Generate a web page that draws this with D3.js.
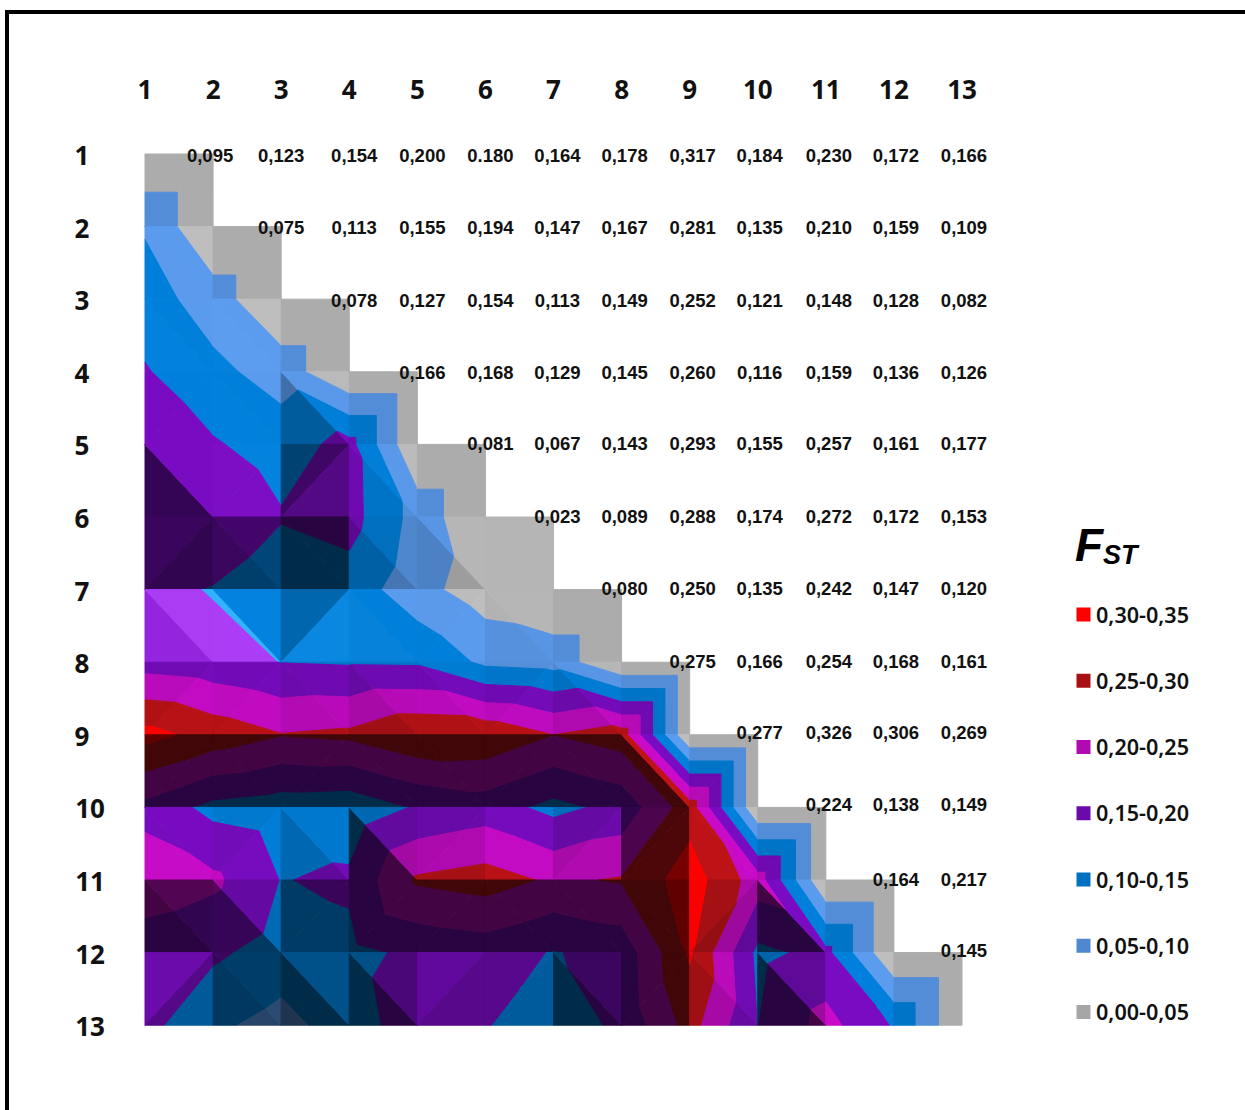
<!DOCTYPE html>
<html>
<head>
<meta charset="utf-8">
<style>
  html, body { margin: 0; padding: 0; background: #fff; }
  svg { display: block; }
  .axisLabel { font-family: "Noto Sans"; font-weight: 700; font-size: 26px; fill: #111; }
  .cellLabel { font-family: "Liberation Sans"; font-weight: 700; font-size: 18.5px; fill: #111; }
  .legendLabel { font-family: "Noto Sans"; font-weight: 600; font-size: 21.6px; fill: #111; }
  .title { font-family: "Liberation Sans"; font-weight: 700; font-style: italic; fill: #000; }
</style>
<script src="https://d3js.org/d3.v7.min.js"></script>
</head>
<body>
<div id="chart"></div>
<script>
// pairwise Fst, one list per population
var pop1  = [0.095, 0.123, 0.154, 0.200, 0.180, 0.164, 0.178, 0.317, 0.184, 0.230, 0.172, 0.166];
var pop2  = [0.075, 0.113, 0.155, 0.194, 0.147, 0.167, 0.281, 0.135, 0.210, 0.159, 0.109];
var pop3  = [0.078, 0.127, 0.154, 0.113, 0.149, 0.252, 0.121, 0.148, 0.128, 0.082];
var pop4  = [0.166, 0.168, 0.129, 0.145, 0.260, 0.116, 0.159, 0.136, 0.126];
var pop5  = [0.081, 0.067, 0.143, 0.293, 0.155, 0.257, 0.161, 0.177];
var pop6  = [0.023, 0.089, 0.288, 0.174, 0.272, 0.172, 0.153];
var pop7  = [0.080, 0.250, 0.135, 0.242, 0.147, 0.120];
var pop8  = [0.275, 0.166, 0.254, 0.168, 0.161];
var pop9  = [0.277, 0.326, 0.306, 0.269];
var pop10 = [0.224, 0.138, 0.149];
var pop11 = [0.164, 0.217];
var pop12 = [0.145];

var populations = [1, 2, 3, 4, 5, 6, 7, 8, 9, 10, 11, 12, 13];
var bandBreaks = [0.05, 0.10, 0.15, 0.20, 0.25, 0.30];
var bandColors = ["#a6a6a6", "#5088d0", "#0070c0", "#6a0aaa", "#b00ab0", "#a81014", "#ff0000"];
var bandLabels = ["0,00-0,05", "0,05-0,10", "0,10-0,15", "0,15-0,20", "0,20-0,25", "0,25-0,30", "0,30-0,35"];

var upper = [pop1, pop2, pop3, pop4, pop5, pop6, pop7, pop8, pop9, pop10, pop11, pop12];
var n = populations.length;

// the table text was not placed exactly on the grid in the original
var labelNudgeX = [0, -3, 0, 5, 5, 5, 4, 3, 3, 2, 3, 2, 2];
var labelNudgeY = [1.5, 0.9, 1.3, 0.7, -0.9, -0.5, -1.1, -0.7, -2.3, -2.9, -0.5, -2.1];

// full surface: lower triangle mirrors the table, the rest counts as zero
function height(r, c) {
  if (r <= c) return 0;
  return upper[c][r - c - 1];
}

var width = 1245, fullHeight = 1110;

var svg = d3.select("#chart").append("svg")
    .attr("width", width)
    .attr("height", fullHeight);

svg.append("path")
    .attr("d", "M7,1110V12H1245")
    .attr("fill", "none")
    .attr("stroke", "#000")
    .attr("stroke-width", 4);

var x = d3.scalePoint().domain(d3.range(n)).range([145, 962]);
var y = d3.scalePoint().domain(d3.range(n)).range([154, 1025.2]);
var band = d3.scaleThreshold().domain(bandBreaks).range(bandColors);
var line = d3.line().x(function(d) { return d.px; }).y(function(d) { return d.py; });

// fake the Excel surface lighting: light from the upper right plus a small highlight
function shade(dx, dy) {
  var sx = -dx * 40, sy = dy * 40;
  var m = Math.sqrt(sx * sx + sy * sy);
  // steep faces turned to the light stop getting brighter, the dark side goes on to ambient
  if (m > 1.2 && sx + sy > 0) { sx *= 1.2 / m; sy *= 1.2 / m; }
  var ndl = (sx * 0.42 + sy * 0.42 + 0.77) / Math.sqrt(1 + sx * sx + sy * sy);
  var diffuse = 0.38 + 0.62 / 0.77 * Math.max(0, ndl);
  var ex = (dx + 0.02) / 0.009, ey = (dy - 0.02) / 0.009;
  var spec = 0.2 * Math.exp(-(ex * ex + ey * ey) / 2);
  return { diffuse: diffuse, spec: spec };
}

function lit(color, s) {
  var c = d3.rgb(color);
  return d3.rgb(c.r * s.diffuse + 255 * s.spec, c.g * s.diffuse + 255 * s.spec, c.b * s.diffuse + 255 * s.spec).formatHex();
}

// keep the part of a triangle on one side of a height level
function clip(poly, level, keepAbove) {
  var out = [];
  for (var i = 0; i < poly.length; i++) {
    var a = poly[i], b = poly[(i + 1) % poly.length];
    var aIn = keepAbove ? a.z >= level : a.z <= level;
    var bIn = keepAbove ? b.z >= level : b.z <= level;
    if (aIn) out.push(a);
    if (aIn != bIn) {
      var t = (level - a.z) / (b.z - a.z);
      out.push({ px: a.px + (b.px - a.px) * t, py: a.py + (b.py - a.py) * t, z: level });
    }
  }
  return out;
}

var facets = [];

function corner(r, c) {
  return { px: x(c), py: y(r), z: height(r, c) };
}

for (var r = 0; r < n - 1; r++) {
  for (var c = 0; c <= r; c++) {
    var tl = corner(r, c), tr = corner(r, c + 1), bl = corner(r + 1, c), br = corner(r + 1, c + 1);
    var tris;
    // cell is folded along the diagonal with the larger sum
    if (tl.z + br.z >= tr.z + bl.z) {
      tris = [
        { pts: [tl, bl, br], dx: br.z - bl.z, dy: bl.z - tl.z },
        { pts: [tl, tr, br], dx: tr.z - tl.z, dy: br.z - tr.z }
      ];
    } else {
      tris = [
        { pts: [tl, tr, bl], dx: tr.z - tl.z, dy: bl.z - tl.z },
        { pts: [tr, bl, br], dx: br.z - bl.z, dy: br.z - tr.z }
      ];
    }
    tris.forEach(function(tri) {
      var s = shade(tri.dx, tri.dy);
      var edges = [0].concat(bandBreaks, [1]);
      for (var b = 0; b < bandColors.length; b++) {
        var poly = clip(clip(tri.pts, edges[b], true), edges[b + 1], false);
        if (poly.length > 2) {
          facets.push({ poly: poly, color: lit(band(edges[b] + 0.001), s) });
        }
      }
    });
  }
}

svg.append("g").selectAll("path")
    .data(facets)
    .enter().append("path")
    .attr("d", function(d) { return line(d.poly) + "Z"; })
    .attr("fill", function(d) { return d.color; })
    .attr("stroke", function(d) { return d.color; })
    .attr("stroke-width", 1);

// table numbers
var numFormat = d3.formatLocale({ decimal: ",", thousands: ".", grouping: [3], currency: ["", ""] }).format(".3f");
var cells = [];
upper.forEach(function(list, r) {
  list.forEach(function(v, i) {
    cells.push({ r: r, c: r + i + 1, v: v });
  });
});

svg.append("g").selectAll("text")
    .data(cells)
    .enter().append("text")
    .attr("class", "cellLabel")
    .attr("x", function(d) { return x(d.c) + labelNudgeX[d.c]; })
    .attr("y", function(d) { return y(d.r) + labelNudgeY[d.r] + 6.5; })
    .attr("text-anchor", "middle")
    .text(function(d) {
      // the picture really has a point in this one
      return d.r == 0 && d.c == 5 ? "0.180" : numFormat(d.v);
    });

svg.append("g").selectAll("text")
    .data(populations)
    .enter().append("text")
    .attr("class", "axisLabel")
    .attr("x", function(d, i) { return x(i); })
    .attr("y", 99)
    .attr("text-anchor", "middle")
    .text(function(d) { return d; });

svg.append("g").selectAll("text")
    .data(populations)
    .enter().append("text")
    .attr("class", "axisLabel")
    .attr("x", function(d) { return d < 10 ? 82 : 90; })
    .attr("y", function(d, i) { return y(i) + 11; })
    .attr("text-anchor", "middle")
    .text(function(d) { return d; });

// legend
var title = svg.append("text").attr("class", "title").attr("x", 1075).attr("y", 561);
title.append("tspan").attr("font-size", 46).text("F");
title.append("tspan").attr("font-size", 27).attr("dy", 3).text("ST");

var legendY = d3.scalePoint().domain(d3.range(7)).range([1012, 614.5]);
var legend = svg.append("g").selectAll("g")
    .data(bandLabels)
    .enter().append("g")
    .attr("transform", function(d, i) { return "translate(0," + legendY(i) + ")"; });

legend.append("rect")
    .attr("x", 1076.5)
    .attr("y", -7)
    .attr("width", 14)
    .attr("height", 14)
    .attr("fill", function(d, i) { return bandColors[i]; });

legend.append("text")
    .attr("class", "legendLabel")
    .attr("x", 1096)
    .attr("y", 8)
    .text(function(d) { return d; });
</script>
</body>
</html>
